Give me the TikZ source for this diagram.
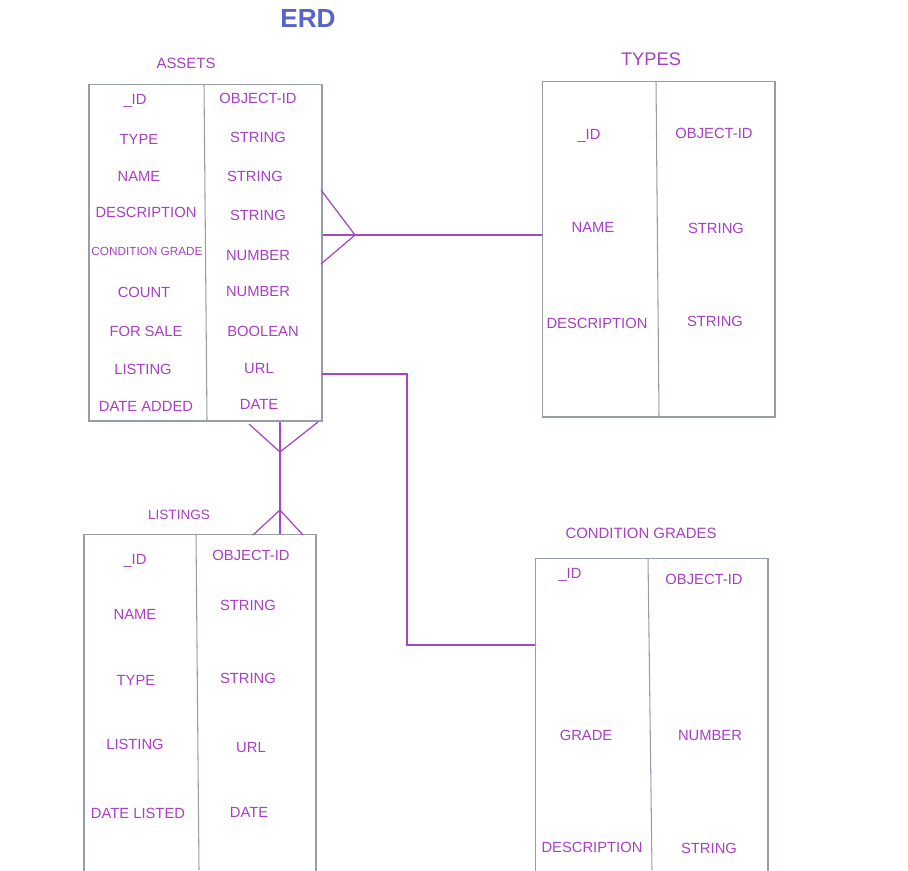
\documentclass[tikz,border=0pt]{standalone}
\usepackage{fontspec}
\setmainfont{Liberation Sans}
\usetikzlibrary{positioning}
\definecolor{erdblue}{RGB}{88,100,200}
\definecolor{erdtext}{RGB}{168,62,196}
\definecolor{erdline}{RGB}{165,70,195}
\definecolor{erdgray}{RGB}{150,156,172}
\tikzset{
    %Define style for table frames
    tbl/.style={
           rectangle,
           draw=erdgray, line width=0.6pt,
           inner sep=0pt},
    % Define style for field texts
    fld/.style={
           text=erdtext,
           inner sep=0pt,
           font=\fontsize{8.4}{10}\selectfont},
    % Define style for table titles
    ttl/.style={
           text=erdtext,
           inner sep=0pt,
           font=\fontsize{8.5}{10}\selectfont},
    % Define link style
    lnk/.style={
           draw=erdline,
           line width=0.7pt,}
}

\begin{document}
\begin{tikzpicture}[x=0.02cm, y=-0.02cm]
\useasboundingbox (0,0) rectangle (908,870);
\clip (0,0) rectangle (908,870);

\node[text=erdblue, font=\fontsize{14.9}{16}\selectfont\bfseries] (erd) at (308,18) {ERD};

% tables
\node[tbl, minimum width=4.66cm, minimum height=6.74cm] (assets) at (205.5,252.5) {};
\node[tbl, minimum width=4.66cm, minimum height=6.72cm] (types) at (658.5,249) {};
\node[tbl, minimum width=4.64cm, minimum height=7.32cm] (listings) at (200,717) {};
\node[tbl, minimum width=4.66cm, minimum height=6.84cm] (grades) at (651.5,729) {};
\draw[draw=erdgray, line width=0.6pt] (204,84) -- (207,421);
\draw[draw=erdgray, line width=0.6pt] (656,81) -- (659,417);
\draw[draw=erdgray, line width=0.6pt] (196,534) -- (199,870);
\draw[draw=erdgray, line width=0.6pt] (648,558) -- (652,870);

% titles
\node[ttl] (assetsname) at (186,63) {ASSETS};
\node[ttl, font=\fontsize{10.4}{12}\selectfont] (typesname) at (651,59) {TYPES};
\node[ttl, font=\fontsize{7.7}{9}\selectfont] (listingsname) at (179,515) {LISTINGS};
\node[ttl] (gradesname) at (641,533) {CONDITION GRADES};

% assets fields
\node[fld] (a1l) at (135,101) {\_ID};
\node[fld] (a2l) at (139,139) {TYPE};
\node[fld] (a3l) at (139,176) {NAME};
\node[fld] (a4l) at (146,212) {DESCRIPTION};
\node[fld, font=\fontsize{6.7}{8}\selectfont] (a5l) at (147,251) {CONDITION GRADE};
\node[fld] (a6l) at (144,292) {COUNT};
\node[fld] (a7l) at (146,331) {FOR SALE};
\node[fld] (a8l) at (143,369) {LISTING};
\node[fld] (a9l) at (146,406) {DATE ADDED};
\node[fld] (a1r) at (258,98) {OBJECT-ID};
\node[fld] (a2r) at (258,137) {STRING};
\node[fld] (a3r) at (255,176) {STRING};
\node[fld] (a4r) at (258,215) {STRING};
\node[fld] (a5r) at (258,255) {NUMBER};
\node[fld] (a6r) at (258,291) {NUMBER};
\node[fld] (a7r) at (263,331) {BOOLEAN};
\node[fld] (a8r) at (259,368) {URL};
\node[fld] (a9r) at (259,404) {DATE};

% types fields
\node[fld] (t1l) at (589,136) {\_ID};
\node[fld] (t2l) at (593,227) {NAME};
\node[fld] (t3l) at (597,323) {DESCRIPTION};
\node[fld] (t1r) at (714,133) {OBJECT-ID};
\node[fld] (t2r) at (716,228) {STRING};
\node[fld] (t3r) at (715,321) {STRING};

% listings fields
\node[fld] (l1l) at (135,561) {\_ID};
\node[fld] (l2l) at (135,614) {NAME};
\node[fld] (l3l) at (136,680) {TYPE};
\node[fld] (l4l) at (135,744) {LISTING};
\node[fld] (l5l) at (138,813) {DATE LISTED};
\node[fld] (l1r) at (251,555) {OBJECT-ID};
\node[fld] (l2r) at (248,605) {STRING};
\node[fld] (l3r) at (248,678) {STRING};
\node[fld] (l4r) at (251,747) {URL};
\node[fld] (l5r) at (249,812) {DATE};

% condition grades fields
\node[fld] (g1l) at (570,575) {\_ID};
\node[fld] (g2l) at (586,735) {GRADE};
\node[fld] (g3l) at (592,847) {DESCRIPTION};
\node[fld] (g1r) at (704,579) {OBJECT-ID};
\node[fld] (g2r) at (710,735) {NUMBER};
\node[fld] (g3r) at (709,848) {STRING};

% assets - types
\coordinate (tfoot) at (355,235);
\draw[lnk] (assets.east |- tfoot) -- (types.west |- tfoot);
\draw[lnk] (321,190) -- (tfoot) -- (321,264);

% assets - condition grades
\coordinate (gurl) at (322,374);
\coordinate (gbend) at (407,645);
\draw[lnk] (gurl) -| (gbend) -- (grades.west |- gbend);

% assets - listings
\coordinate (ltop) at (280,452);
\coordinate (lbot) at (280,510);
\draw[lnk] (assets.south -| ltop) -- (listings.north -| lbot);
\draw[lnk] (249,424) -- (ltop) -- (318,422);
\draw[lnk] (253,535) -- (lbot) -- (303,535);
\end{tikzpicture}
\end{document}
